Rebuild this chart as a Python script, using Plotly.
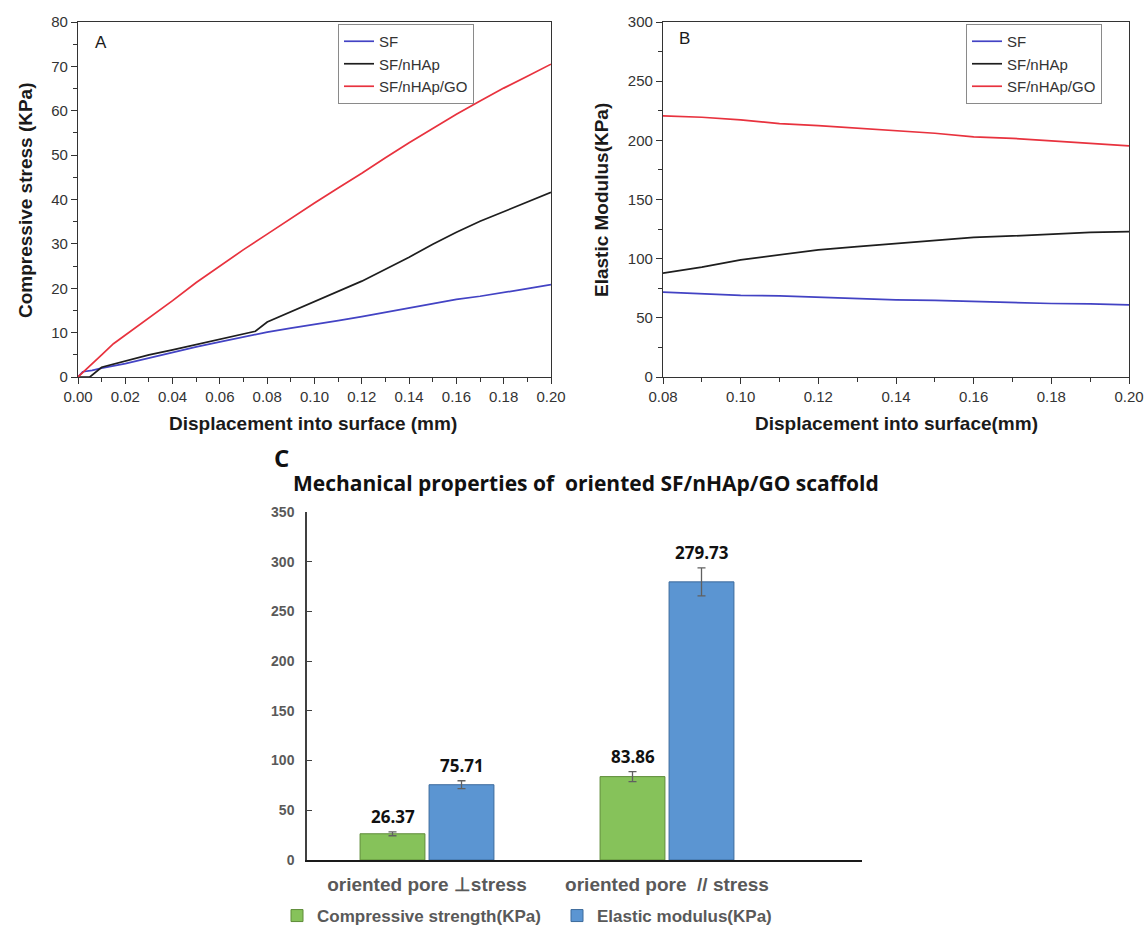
import plotly.graph_objects as go

W, H = 1146, 930

# ---------------- Panel A data ----------------
a_sf_x = [0, 0.002, 0.006, 0.01, 0.02, 0.03, 0.04, 0.05, 0.06, 0.07, 0.08, 0.09, 0.10,
          0.11, 0.12, 0.13, 0.14, 0.15, 0.16, 0.17, 0.18, 0.19, 0.20]
a_sf_y = [0, 1.2, 1.5, 2.0, 3.0, 4.3, 5.6, 6.8, 7.9, 9.0, 10.1, 11.0, 11.8,
          12.7, 13.6, 14.6, 15.6, 16.5, 17.5, 18.2, 19.0, 19.9, 20.8]
a_nhap_x = [0, 0.005, 0.01, 0.02, 0.03, 0.04, 0.05, 0.06, 0.07, 0.075, 0.08, 0.09, 0.10,
            0.11, 0.12, 0.13, 0.14, 0.15, 0.16, 0.17, 0.18, 0.19, 0.20]
a_nhap_y = [0, 0, 2.2, 3.6, 5.0, 6.1, 7.3, 8.5, 9.7, 10.3, 12.4, 14.7, 16.9,
            19.2, 21.6, 24.3, 27.0, 29.9, 32.6, 35.1, 37.3, 39.5, 41.6]
a_go_x = [0, 0.005, 0.01, 0.015, 0.02, 0.03, 0.04, 0.05, 0.06, 0.07, 0.08, 0.09, 0.10,
          0.11, 0.12, 0.13, 0.14, 0.15, 0.16, 0.17, 0.18, 0.19, 0.20]
a_go_y = [0, 2.6, 5.0, 7.5, 9.4, 13.4, 17.2, 21.3, 25.1, 28.7, 32.2, 35.8, 39.2,
          42.6, 45.9, 49.4, 52.8, 56.0, 59.2, 62.2, 65.1, 67.8, 70.5]

# ---------------- Panel B data ----------------
b_x = [0.08, 0.09, 0.10, 0.11, 0.12, 0.13, 0.14, 0.15, 0.16, 0.17, 0.18, 0.19, 0.20]
b_sf_y = [71.7, 70.3, 68.9, 68.6, 67.5, 66.1, 65.2, 64.7, 63.8, 63.0, 62.1, 61.8, 61.0]
b_nhap_y = [87.7, 92.8, 99.0, 103.5, 107.5, 110.2, 112.7, 115.8, 118.0, 119.2, 120.6, 122.3, 122.9]
b_go_y = [220.7, 219.5, 217.3, 214.2, 212.5, 210.5, 208.6, 206.0, 203.0, 201.7, 199.6, 197.6, 195.4]

series_names = ["SF", "SF/nHAp", "SF/nHAp/GO"]
series_colors = ["#4343C4", "#1E1E1E", "#E8323E"]

# ---------------- Panel C data ----------------
c_categories = ["oriented pore ⊥stress", "oriented pore  // stress"]
c_comp = [26.37, 83.86]
c_comp_err = [2, 5]
c_elastic = [75.71, 279.73]
c_elastic_err = [4, 14]
c_names = ["Compressive strength(KPa)", "Elastic modulus(KPa)"]

fig = go.Figure()

def px_x(p):
    return p / W

def px_y(p):
    return 1 - p / H

# domains
A_x = [px_x(78), px_x(551)]
B_x = [px_x(663), px_x(1129)]
AB_y = [px_y(377), px_y(22)]
C_x = [px_x(307), px_x(862)]
C_y = [px_y(860), px_y(512)]

# Panel A traces
for xs, ys, nm, col in zip([a_sf_x, a_nhap_x, a_go_x], [a_sf_y, a_nhap_y, a_go_y],
                           series_names, series_colors):
    fig.add_trace(go.Scatter(x=xs, y=ys, mode="lines", name=nm,
                             line=dict(color=col, width=1.7),
                             xaxis="x", yaxis="y", legend="legend"))
# Panel B traces
for ys, nm, col in zip([b_sf_y, b_nhap_y, b_go_y], series_names, series_colors):
    fig.add_trace(go.Scatter(x=b_x, y=ys, mode="lines", name=nm,
                             line=dict(color=col, width=1.7),
                             xaxis="x2", yaxis="y2", legend="legend2"))

# Panel C bars
bargap = 0.425
cat_pos = list(range(len(c_categories)))
fig.add_trace(go.Bar(x=cat_pos, y=c_comp, name=c_names[0],
                     marker=dict(color="#86C25A", line=dict(color="#5E8C38", width=1)),
                     error_y=dict(type="data", array=c_comp_err, color="#606060",
                                  thickness=1.3, width=4),
                     xaxis="x3", yaxis="y3", legend="legend3"))
fig.add_trace(go.Bar(x=cat_pos, y=c_elastic, name=c_names[1],
                     marker=dict(color="#5B95D2", line=dict(color="#3C6A9C", width=1)),
                     error_y=dict(type="data", array=c_elastic_err, color="#606060",
                                  thickness=1.3, width=4),
                     xaxis="x3", yaxis="y3", legend="legend3"))

axis_font = dict(family="Liberation Sans, Arial", size=15, color="#333333")
frame = dict(showline=True, linecolor="#333333", linewidth=1.3, mirror=True,
             ticks="outside", ticklen=6, tickwidth=1.2, tickcolor="#333333",
             showgrid=False, zeroline=False, tickfont=axis_font, automargin=False)

layout = dict(
    width=W, height=H,
    margin=dict(l=0, r=0, t=0, b=0, autoexpand=False),
    paper_bgcolor="white", plot_bgcolor="white",
    barmode="group", bargap=bargap, bargroupgap=0.06,
    xaxis=dict(domain=A_x, anchor="y", range=[0, 0.2], dtick=0.02, tickformat=".2f",
               minor=dict(dtick=0.01, ticks="outside", ticklen=4, tickcolor="#333333"),
               **frame),
    yaxis=dict(domain=AB_y, anchor="x", range=[0, 80], dtick=10,
               minor=dict(dtick=5, ticks="outside", ticklen=4, tickcolor="#333333"),
               **frame),
    xaxis2=dict(domain=B_x, anchor="y2", range=[0.08, 0.2], dtick=0.02, tickformat=".2f",
                tick0=0.08,
                minor=dict(dtick=0.01, ticks="outside", ticklen=4, tickcolor="#333333"),
                **frame),
    yaxis2=dict(domain=AB_y, anchor="x2", range=[0, 300], dtick=50,
                minor=dict(dtick=25, ticks="outside", ticklen=4, tickcolor="#333333"),
                **frame),
    xaxis3=dict(domain=C_x, anchor="y3", range=[-0.5, 1.8125],
                tickvals=cat_pos, ticktext=c_categories, ticks="",
                showline=True, linecolor="#1a1a1a", linewidth=2, showgrid=False,
                zeroline=False, automargin=False, ticklabelstandoff=6,
                tickfont=dict(family="Liberation Sans, Arial", size=19, color="#595959",
                              weight="bold")),
    yaxis3=dict(domain=C_y, anchor="x3", range=[0, 350], dtick=50,
                showline=True, linecolor="#404040", linewidth=1.5, showgrid=False,
                zeroline=False, ticks="inside", ticklen=5, tickcolor="#404040",
                automargin=False, ticklabelstandoff=8,
                tickfont=dict(family="Liberation Sans, Arial", size=14, color="#595959",
                              weight="bold")),
    legend=dict(x=px_x(338), y=px_y(24), xanchor="left", yanchor="top",
                bordercolor="#8a8a8a", borderwidth=1, bgcolor="white",
                font=dict(family="Liberation Sans, Arial", size=15, color="#333333"),
                tracegroupgap=0),
    legend2=dict(x=px_x(966), y=px_y(24), xanchor="left", yanchor="top",
                 bordercolor="#8a8a8a", borderwidth=1, bgcolor="white",
                 font=dict(family="Liberation Sans, Arial", size=15, color="#333333"),
                 tracegroupgap=0),
    legend3=dict(x=px_x(277), y=px_y(916), xanchor="left", yanchor="middle",
                 orientation="h", bgcolor="rgba(0,0,0,0)",
                 font=dict(family="Liberation Sans, Arial", size=17, color="#595959",
                           weight="bold"),
                 itemwidth=30, entrywidth=235),
    showlegend=True,
)
fig.update_layout(**layout)

ann = []
title_font = dict(family="Liberation Sans, Arial", size=19, color="#1a1a1a", weight="bold")
centered = dict(xref="paper", yref="paper", showarrow=False, xanchor="center", yanchor="middle")
# Axis titles
ann.append(dict(text="Compressive stress (KPa)", x=px_x(25), y=px_y(200), textangle=-90,
                font=title_font, **centered))
ann.append(dict(text="Displacement into surface (mm)", x=px_x(313), y=px_y(423),
                font=title_font, **centered))
ann.append(dict(text="Elastic Modulus(KPa)", x=px_x(601), y=px_y(200), textangle=-90,
                font=title_font, **centered))
ann.append(dict(text="Displacement into surface(mm)", x=px_x(896), y=px_y(423),
                font=title_font, **centered))
# Panel letters
letter_font = dict(family="Liberation Sans, Arial", size=17, color="#1a1a1a")
ann.append(dict(text="A", x=px_x(101), y=px_y(42), font=letter_font, **centered))
ann.append(dict(text="B", x=px_x(684), y=px_y(38), font=letter_font, **centered))
ann.append(dict(text="C", x=px_x(281), y=px_y(457),
                font=dict(family="Open Sans", size=24, color="#111111", weight="bold"), **centered))
ann.append(dict(text="Mechanical properties of  oriented SF/nHAp/GO scaffold", x=px_x(586), y=px_y(483),
                font=dict(family="Open Sans", size=21, color="#111111", weight="bold"), **centered))
# Bar value labels
slot = (1 - bargap) / 2
for vals, errs, off in [(c_comp, c_comp_err, -slot / 2), (c_elastic, c_elastic_err, slot / 2)]:
    for i, (v, e) in enumerate(zip(vals, errs)):
        ann.append(dict(text=f"{v:.2f}", x=i + off, y=v + e, xref="x3", yref="y3",
                        xanchor="center", yanchor="middle", yshift=15, showarrow=False,
                        font=dict(family="Open Sans", size=17, color="#111111", weight="bold")))
fig.update_layout(annotations=ann)

fig.write_html("out.html", config={"displayModeBar": False},
               post_script="document.body.style.margin='0px';")
